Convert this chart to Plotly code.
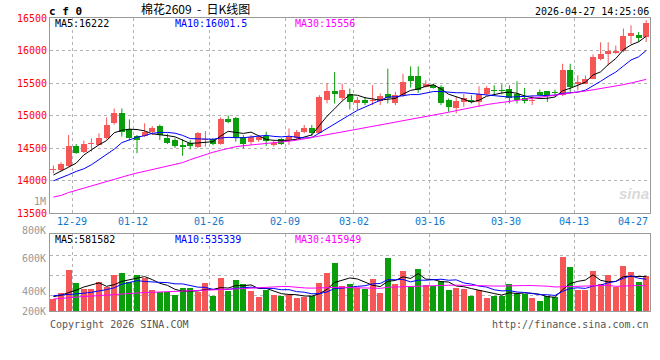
import numpy as np
import pandas as pd
import plotly.graph_objects as go

# ---------------- data ----------------
dates = ["12-25", "12-26", "12-29", "12-30", "12-31", "01-05", "01-06", "01-07", "01-08", "01-09",
         "01-12", "01-13", "01-14", "01-15", "01-16", "01-19", "01-20", "01-21", "01-22", "01-23",
         "01-26", "01-27", "01-28", "01-29", "01-30", "02-02", "02-03", "02-04", "02-05", "02-06",
         "02-09", "02-10", "02-11", "02-12", "02-13", "02-24", "02-25", "02-26", "02-27", "03-02",
         "03-03", "03-04", "03-05", "03-06", "03-09", "03-10", "03-11", "03-12", "03-13", "03-16",
         "03-17", "03-18", "03-19", "03-20", "03-23", "03-24", "03-25", "03-26", "03-27", "03-30",
         "03-31", "04-01", "04-02", "04-03", "04-07", "04-08", "04-09", "04-10", "04-13", "04-14",
         "04-15", "04-16", "04-17", "04-20", "04-21", "04-22", "04-23", "04-24", "04-27"]

opens = [14155, 14155, 14226, 14532, 14445, 14565, 14547, 14650, 14880, 15042,
         14787, 14685, 14685, 14751, 14838, 14660, 14624, 14547, 14573, 14522,
         14625, 14634, 14563, 14940, 14956, 14665, 14598, 14624, 14685, 14547,
         14634, 14624, 14650, 14751, 14803, 14726, 15236, 15378, 15277, 15338,
         15194, 15236, 15225, 15225, 15327, 15185, 15312, 15602, 15602, 15440,
         15465, 15439, 15236, 15110, 15210, 15246, 15210, 15327, 15399, 15389,
         15404, 15327, 15262, 15225, 15363, 15373, 15353, 15312, 15705, 15490,
         15480, 15557, 15873, 15939, 15965, 15990, 16219, 16240, 16203]
highs = [14230, 14280, 14700, 14560, 14613, 14650, 14726, 14970, 15108, 15108,
         14940, 14700, 14880, 14838, 14860, 14720, 14650, 14635, 14620, 14745,
         14760, 14650, 14970, 15000, 14980, 14700, 14700, 14700, 14751, 14624,
         14650, 14803, 14777, 14854, 14854, 15312, 15500, 15668, 15490, 15414,
         15286, 15286, 15465, 15338, 15720, 15363, 15643, 15755, 15755, 15542,
         15491, 15465, 15260, 15286, 15333, 15312, 15450, 15450, 15465, 15480,
         15465, 15526, 15425, 15312, 15400, 15373, 15399, 15796, 15796, 15618,
         15618, 15940, 16127, 16127, 16076, 16339, 16386, 16285, 16468]
lows = [14110, 14140, 14210, 14410, 14420, 14445, 14540, 14630, 14860, 14675,
        14620, 14420, 14670, 14700, 14624, 14560, 14500, 14380, 14480, 14497,
        14520, 14540, 14550, 14880, 14598, 14497, 14547, 14598, 14532, 14522,
        14547, 14547, 14624, 14726, 14675, 14726, 15185, 15185, 15236, 15093,
        15083, 15160, 15160, 15160, 15185, 15160, 15286, 15430, 15348, 15430,
        15414, 15160, 15057, 15032, 15134, 15185, 15134, 15312, 15312, 15327,
        15185, 15185, 15185, 15160, 15297, 15210, 15297, 15297, 15363, 15388,
        15480, 15557, 15847, 15771, 15949, 15975, 16102, 16132, 16131]
closes = [14180, 14257, 14532, 14430, 14563, 14575, 14650, 14853, 15032, 14751,
          14660, 14624, 14751, 14803, 14700, 14573, 14532, 14512, 14537, 14736,
          14640, 14563, 14940, 14905, 14650, 14563, 14665, 14665, 14613, 14583,
          14563, 14665, 14751, 14803, 14726, 15286, 15378, 15327, 15399, 15210,
          15246, 15185, 15246, 15297, 15277, 15312, 15516, 15531, 15399, 15491,
          15430, 15194, 15124, 15225, 15277, 15210, 15338, 15430, 15378, 15378,
          15277, 15246, 15225, 15246, 15312, 15297, 15343, 15705, 15439, 15516,
          15557, 15898, 15949, 15990, 15990, 16229, 16270, 16188, 16417]
volumes_k = [199, 293, 680, 459, 359, 359, 476, 393, 597, 630,
             487, 597, 542, 348, 321, 321, 265, 387, 376, 310,
             459, 254, 542, 337, 514, 442, 332, 238, 348, 265,
             254, 265, 221, 238, 254, 459, 625, 791, 415, 448,
             376, 365, 531, 304, 885, 448, 669, 393, 702, 431,
             409, 503, 354, 376, 371, 254, 348, 221, 254, 243,
             448, 277, 277, 221, 166, 243, 232, 901, 735, 348,
             348, 669, 448, 597, 393, 752, 653, 481, 586]

ma5_head = [14085, 14140, 14205, 14267]
ma10_head = [13995, 14038, 14089, 14140, 14180, 14242, 14318, 14394, 14482]
ma30_line = [13745, 13770, 13815, 13850, 13880, 13915, 13950, 13990, 14025, 14055,
             14085, 14115, 14140, 14165, 14190, 14215, 14240, 14275, 14320, 14360,
             14400, 14435, 14465, 14495, 14520, 14535, 14545, 14555, 14565, 14575,
             14590, 14605, 14620, 14640, 14660, 14680, 14700, 14722, 14745, 14768,
             14790, 14812, 14833, 14855, 14877, 14900, 14920, 14943, 14965, 14988,
             15010, 15030, 15050, 15075, 15100, 15125, 15148, 15168, 15185, 15200,
             15217, 15233, 15248, 15262, 15277, 15292, 15308, 15325, 15342, 15360,
             15377, 15395, 15413, 15432, 15452, 15475, 15500, 15527, 15556]
vol_ma5_head = [238, 262, 305, 345]
vol_ma10_head = [254, 262, 275, 285, 295, 310, 330, 355, 385]
vol_ma30_head = [199, 212, 225, 233, 240, 247, 252, 262, 272, 282,
                 293, 302, 306, 310, 314, 320, 326, 332, 338, 345,
                 350, 354, 358, 362, 366, 372, 379, 385, 390]

price_ticks = [13500, 14000, 14500, 15000, 15500, 16000, 16500]
date_tick_idx = [2, 10, 20, 30, 39, 49, 59, 68, 78]
vol_grid_k = [265, 597, 918]
vol_labels = ["800K", "600K", "400K", "200K"]
price_ma_labels = ["MA5:16222", "MA10:16001.5", "MA30:15556"]
vol_ma_labels = ["MA5:581582", "MA10:535339", "MA30:415949"]
title_code = "c f 0"
title_name = "棉花2609\u00a0\u00a0-\u00a0\u00a0日K线图"
timestamp = "2026-04-27 14:25:06"

# ---------------- derived ----------------
n = len(closes)
idx = np.arange(n)
o = np.array(opens, float); c = np.array(closes, float)
h = np.array(highs, float); l = np.array(lows, float)
v = np.array(volumes_k, float)
up = c >= o

cs = pd.Series(c)
ma5 = cs.rolling(5).mean().to_numpy(); ma5[:4] = ma5_head
ma10 = cs.rolling(10).mean().to_numpy(); ma10[:9] = ma10_head
ma30 = np.array(ma30_line, float)
vs = pd.Series(v)
vma5 = vs.rolling(5).mean().to_numpy(); vma5[:4] = vol_ma5_head
vma10 = vs.rolling(10).mean().to_numpy(); vma10[:9] = vol_ma10_head
vma30 = vs.rolling(30).mean().to_numpy(); vma30[:29] = vol_ma30_head

RED = "#f65656"
GREEN = "#0a9e0a"
MONO = "DejaVu Sans Mono"

fig = go.Figure()

def wick_xy(mask):
    xs, ys = [], []
    for i in idx[mask]:
        xs += [i, i, None]
        ys += [l[i], h[i], None]
    return xs, ys

for mask, col in ((up, RED), (~up, GREEN)):
    wx, wy = wick_xy(mask)
    fig.add_trace(go.Scatter(x=wx, y=wy, mode="lines", line=dict(color=col, width=1),
                             hoverinfo="skip", xaxis="x", yaxis="y"))
    base = np.minimum(o, c)[mask]
    body = np.maximum(np.abs(c - o)[mask], 14)
    fig.add_trace(go.Bar(x=idx[mask], y=body, base=base, width=0.78,
                         marker=dict(color=col, line=dict(width=0)), xaxis="x", yaxis="y"))

for arr, col in ((ma5, "#000000"), (ma10, "#0000ff"), (ma30, "#ff00ff")):
    fig.add_trace(go.Scatter(x=idx, y=arr, mode="lines", line=dict(color=col, width=1),
                             xaxis="x", yaxis="y"))

for mask, col in ((up, RED), (~up, GREEN)):
    fig.add_trace(go.Bar(x=idx[mask], y=v[mask], width=0.78,
                         marker=dict(color=col, line=dict(width=0)), xaxis="x2", yaxis="y2"))
for arr, col in ((vma5, "#000000"), (vma10, "#0000ff"), (vma30, "#ff00ff")):
    fig.add_trace(go.Scatter(x=idx, y=arr, mode="lines", line=dict(color=col, width=1),
                             xaxis="x2", yaxis="y2"))

grid_x = [i + 0.5 for i in date_tick_idx[:-1]]
xcommon = dict(range=[-0.45, n - 0.5], showline=True, mirror=True, linecolor="#9a9a9a",
               linewidth=1, tickvals=grid_x, showticklabels=False, ticks="",
               showgrid=True, gridcolor="#b4b4b4", griddash="dot", gridwidth=1,
               zeroline=False, fixedrange=True, automargin=False)

# plot area in window pixels: x 50..650, y 18..311 (page body margin removed below)
H_PLOT = 293.0
def py(pix):  # window pixel row -> paper y
    return (311 - pix) / H_PLOT
def px(pix):  # window pixel column -> paper x
    return (pix - 50) / 600.0

fig.update_layout(
    width=660, height=360,
    margin=dict(l=50, r=10, t=18, b=49, pad=0, autoexpand=False),
    paper_bgcolor="white", plot_bgcolor="white", showlegend=False, barmode="overlay",
    bargap=0,
    xaxis=dict(domain=[0, 1], anchor="y", **xcommon),
    xaxis2=dict(domain=[0, 1], anchor="y2", matches="x", **xcommon),
    yaxis=dict(domain=[py(213), 1], range=[price_ticks[0], price_ticks[-1]],
               tickvals=price_ticks, ticktext=[str(t) for t in price_ticks],
               tickfont=dict(family=MONO, size=10, color="#ff0000"), ticks="",
               showline=True, mirror=True, linecolor="#9a9a9a",
               showgrid=True, gridcolor="#b4b4b4", griddash="dot", zeroline=False,
               fixedrange=True, automargin=False),
    yaxis2=dict(domain=[0, py(234)], range=[0, 1277], tickvals=vol_grid_k,
                showticklabels=False, ticks="", showline=True, mirror=True,
                linecolor="#9a9a9a", showgrid=True, gridcolor="#b4b4b4", griddash="dot",
                zeroline=False, fixedrange=True, automargin=False),
)

ann = []
def add(text, x, y, xanchor="left", color="#000", size=10, family=MONO, xref="paper"):
    ann.append(dict(text=text, x=x, y=y, xref=xref, yref="paper", xanchor=xanchor,
                    yanchor="middle", showarrow=False,
                    font=dict(family=family, size=size, color=color)))

# date labels
for k, i in enumerate(date_tick_idx):
    last = k == len(date_tick_idx) - 1
    add(dates[i], i + 0.5, py(222), xanchor="right" if last else "center",
        color="#1177cc", xref="x")

# header
add("<b>" + title_code + "</b>", px(47), py(11), size=11)
add(title_name, px(139), py(9), family="Noto Sans CJK SC", size=12)
add(timestamp, px(651), py(12), xanchor="right")

# MA legends
ma_cols = ["#000000", "#0000ff", "#ff00ff"]
for k, (t1, t2) in enumerate(zip(price_ma_labels, vol_ma_labels)):
    add(t1, px(53 + 120 * k), py(23), color=ma_cols[k])
    add(t2, px(53 + 120 * k), py(239), color=ma_cols[k])

# volume axis labels (as placed in the original)
for t, ypix in zip(vol_labels, [230, 258, 291, 311]):
    add(t, px(48), py(ypix), xanchor="right", color="#999999")
add("1M", px(48), py(201), xanchor="right", color="#999999")

# footer
add("Copyright 2026 SINA.COM", px(48), py(324), color="#555555")
add("http://finance.sina.com.cn", px(651), py(324), xanchor="right", color="#555555")

# watermark
add("<b><i>sina</i></b>", px(651), py(193), xanchor="right", color="#d9d9d9",
    family="Liberation Sans", size=15)

fig.update_layout(annotations=ann)
fig.write_html("out.html", config={"displayModeBar": False, "staticPlot": True},
               post_script="document.body.style.margin='0px';document.body.style.overflow='hidden';")
